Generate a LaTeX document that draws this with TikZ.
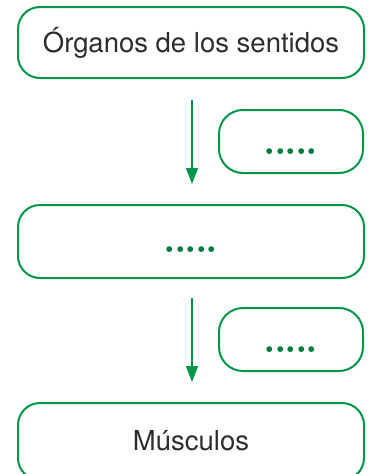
\documentclass[tikz,border=0pt]{standalone}
\usepackage{fontspec}
\setmainfont{TeX Gyre Heros}
\newfontfamily\lmfont{Latin Modern Roman}
\usetikzlibrary{arrows.meta}
\definecolor{boxgreen}{RGB}{0,150,72}
\definecolor{dotgreen}{RGB}{0,125,62}
\definecolor{txtgray}{RGB}{45,45,45}
\newcommand{\fivedots}{\textcolor{dotgreen}{\lmfont\bfseries .\kern-2pt.\kern-2pt.\kern-2pt.\kern-2pt.}}
\tikzset{
  bigbox/.style={draw=boxgreen, line width=2pt, rounded corners=22pt, minimum width=346pt, inner sep=0pt,
    font=\fontsize{27.5}{30}\selectfont, text=txtgray, text height=19.7pt, text depth=0pt},
  smallbox/.style={draw=boxgreen, line width=2pt, rounded corners=24pt, minimum width=144pt, minimum height=63pt, inner sep=0pt,
    font=\fontsize{40}{42}\selectfont, text height=25pt, text depth=0pt},
  flowarrow/.style={draw=boxgreen, line width=1.6pt, -{Triangle[length=16pt,width=12pt]}}
}
\begin{document}
\begin{tikzpicture}[x=1pt,y=-1pt]
\useasboundingbox (0,0) rectangle (370,474);
\node[bigbox, minimum height=71pt] (b1) at (191,42.5) {Órganos de los sentidos};
\node[smallbox] (s1) at (291,141.5) {\fivedots};
\node[bigbox, minimum height=73pt, font=\fontsize{40}{42}\selectfont, text height=21.6pt] (b2) at (191,241.5) {\fivedots};
\node[smallbox, text height=25.6pt] (s2) at (291,339.5) {\fivedots};
\node[bigbox, minimum height=77pt, text height=17.7pt] (b3) at (191,441.5) {Músculos};
\draw[flowarrow, shorten <=21pt, shorten >=20pt] ([xshift=1pt]b1.south) -- ([xshift=1pt]b2.north);
\draw[flowarrow, shorten <=19pt, shorten >=20pt] ([xshift=1pt]b2.south) -- ([xshift=1pt]b3.north);
\end{tikzpicture}
\end{document}
